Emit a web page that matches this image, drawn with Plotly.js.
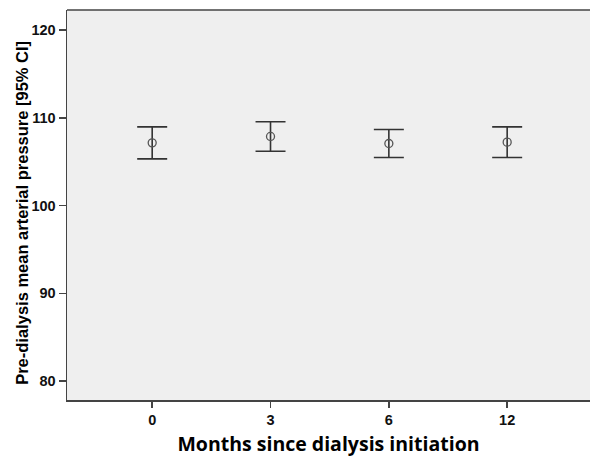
<!DOCTYPE html>
<html>
<head>
<meta charset="utf-8">
<script src="https://cdn.plot.ly/plotly-3.0.1.min.js"></script>
<style>html,body{margin:0;padding:0;background:#fff;}#chart{width:590px;height:457px;}</style>
</head>
<body>
<div id="chart"></div>
<script>
var months = ["0", "3", "6", "12"];
var meanMAP = [107.15, 107.88, 107.08, 107.23];
var upperCI = [108.97, 109.55, 108.68, 108.97];
var lowerCI = [105.33, 106.2, 105.48, 105.48];
var yTicks = [80, 90, 100, 110, 120];

var errPlus = meanMAP.map(function(m, i){ return upperCI[i] - m; });
var errMinus = meanMAP.map(function(m, i){ return m - lowerCI[i]; });

var trace = {
  type: 'scatter',
  mode: 'markers',
  x: [0, 1, 2, 3],
  y: meanMAP,
  marker: {symbol: 'circle-open', size: 8, color: '#555555', line: {width: 1.3, color: '#555555'}},
  error_y: {type: 'data', symmetric: false, array: errPlus, arrayminus: errMinus,
            color: '#333333', thickness: 1.6, width: 15},
  hoverinfo: 'skip'
};

var layout = {
  width: 590, height: 457,
  margin: {l: 67, r: 0, t: 10, b: 57},
  paper_bgcolor: '#ffffff',
  plot_bgcolor: '#efefef',
  showlegend: false,
  font: {family: 'Liberation Sans, Arial, sans-serif', color: '#000'},
  xaxis: {
    range: [-0.72, 3.70],
    tickmode: 'array', tickvals: [0, 1, 2, 3],
    ticktext: months.map(function(s){ return '<b>' + s + '</b>'; }),
    ticks: 'outside', ticklen: 6, tickwidth: 1.5, tickcolor: '#444',
    showgrid: false, zeroline: false,
    showline: true, linecolor: '#444', linewidth: 1.5, mirror: false,
    tickfont: {size: 14.5, family: 'Liberation Sans, Arial, sans-serif', color: '#111'},
    title: {text: 'Months since dialysis initiation', standoff: 14,
            font: {size: 19.5, family: 'Open Sans, sans-serif', weight: 'bold', color: '#000'}}
  },
  yaxis: {
    range: [77.83, 122.3],
    tickmode: 'array', tickvals: yTicks,
    ticktext: yTicks.map(function(v){ return '<b>' + v + '</b>'; }),
    ticks: 'outside', ticklen: 7, tickwidth: 1.5, tickcolor: '#444',
    showgrid: false, zeroline: false,
    showline: true, linecolor: '#444', linewidth: 1.5,
    tickfont: {size: 14.5, family: 'Liberation Sans, Arial, sans-serif', color: '#111'},
    title: {text: ''}
  },
  annotations: [{
    text: 'Pre-dialysis mean arterial pressure [95% CI]',
    xref: 'paper', yref: 'paper', x: -0.086, y: 0.48,
    xanchor: 'center', yanchor: 'middle', textangle: -90, showarrow: false,
    font: {size: 16.5, family: 'Liberation Sans, Arial, sans-serif', weight: 'bold', color: '#000'}
  }],
  shapes: [{type: 'line', xref: 'paper', yref: 'paper', x0: 0, x1: 1, y0: 1, y1: 1,
            line: {color: '#444', width: 1.5}}]
};

Plotly.newPlot('chart', [trace], layout, {displayModeBar: false, staticPlot: true});
</script>
</body>
</html>
